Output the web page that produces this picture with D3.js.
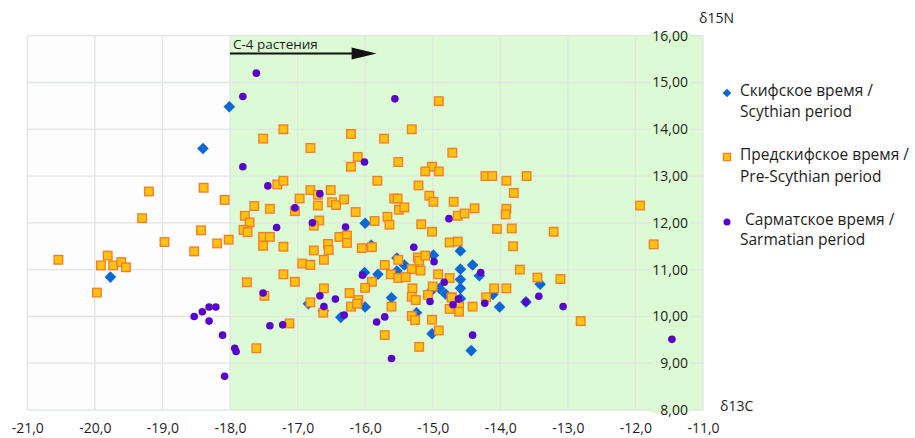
<!DOCTYPE html>
<html>
<head>
<meta charset="utf-8">
<script src="https://cdn.jsdelivr.net/npm/d3@7"></script>
<style>
body { margin: 0; background: #fff; }
text { font-family: "Open Sans", sans-serif; fill: #1d1d1d; }
</style>
</head>
<body>
<div id="chart"></div>
<script>
// Tick values of both axes
const xTicks = [-21, -20, -19, -18, -17, -16, -15, -14, -13, -12, -11];
const yTicks = [8, 9, 10, 11, 12, 13, 14, 15, 16];

// Start of the C-4 zone on the δ13C axis
const c4Start = -18;

// [δ13C, δ15N] for every sample, one array per period
const scythian = [
    [-18.01, 14.48], [-18.40, 13.59], [-19.77, 10.84], [-16.00, 11.99], [-15.91, 11.52],
    [-15.42, 11.10], [-14.99, 11.31], [-14.59, 11.40], [-14.59, 11.01], [-14.59, 10.79],
    [-14.59, 10.60], [-14.59, 10.38], [-14.41, 11.10], [-14.31, 10.87], [-13.41, 10.69],
    [-14.11, 10.47], [-14.01, 10.20], [-13.62, 10.31], [-14.43, 9.27], [-16.01, 10.94],
    [-15.81, 10.90], [-15.53, 10.97], [-14.90, 10.60], [-14.81, 10.48], [-15.02, 10.55],
    [-15.61, 10.40], [-16.00, 10.20], [-16.84, 10.27], [-16.62, 10.12], [-16.36, 9.98],
    [-15.24, 10.08], [-15.01, 9.63], [-15.53, 11.25]
];

const preScythian = [
    [-19.20, 12.67], [-18.39, 12.75], [-18.08, 12.49], [-19.30, 12.10], [-18.43, 11.84],
    [-17.78, 12.15], [-17.71, 12.01], [-17.80, 11.85], [-17.74, 11.80],
    [-20.54, 11.21], [-19.81, 11.30], [-19.91, 11.09], [-19.73, 11.09], [-19.61, 11.16],
    [-19.54, 11.05], [-19.97, 10.51], [-18.97, 11.59], [-18.53, 11.39], [-18.19, 11.56],
    [-18.02, 11.64], [-17.75, 10.73],
    [-14.91, 14.60], [-17.21, 14.00], [-17.51, 13.80], [-16.21, 13.90], [-15.72, 13.80],
    [-15.31, 14.00], [-16.81, 13.60], [-14.71, 13.50], [-16.11, 13.41], [-16.21, 13.20],
    [-15.51, 13.30], [-15.01, 13.20], [-15.11, 13.10], [-14.91, 13.10], [-15.82, 12.90],
    [-17.30, 12.82], [-17.21, 12.90], [-15.21, 12.80], [-16.81, 12.70], [-16.70, 12.60],
    [-16.51, 12.70], [-16.97, 12.52], [-17.64, 12.36], [-17.41, 12.30], [-16.70, 12.37],
    [-16.49, 12.44], [-16.43, 12.38], [-16.31, 12.50], [-15.57, 12.52], [-15.52, 12.52],
    [-15.05, 12.58], [-14.99, 12.45], [-14.69, 12.45], [-15.50, 12.28], [-15.42, 12.33],
    [-17.04, 12.25], [-16.14, 12.23], [-16.68, 12.05], [-16.76, 11.94], [-15.86, 12.04],
    [-15.67, 12.13], [-15.64, 11.96], [-15.17, 11.97], [-15.01, 11.81], [-14.63, 12.15],
    [-14.53, 12.20],
    [-14.22, 13.00], [-14.12, 13.00], [-13.91, 12.90], [-13.61, 13.00], [-13.80, 12.64],
    [-14.38, 12.31], [-13.91, 12.30], [-13.92, 12.18], [-11.93, 12.37], [-14.05, 11.87],
    [-13.83, 11.88], [-13.21, 11.81],
    [-11.73, 11.54], [-13.81, 11.50], [-13.71, 11.00], [-13.45, 10.83], [-13.11, 10.80],
    [-14.09, 10.60], [-13.91, 10.60], [-14.21, 10.41], [-14.41, 10.21], [-12.81, 9.90],
    [-14.75, 11.58], [-14.63, 11.60], [-14.72, 10.41], [-14.61, 10.21], [-14.61, 10.10],
    [-14.75, 10.16],
    [-15.51, 11.21], [-15.22, 11.26], [-15.20, 11.19], [-15.11, 11.30], [-15.31, 11.01],
    [-15.18, 10.98], [-15.62, 10.90], [-15.51, 10.82], [-15.40, 10.84], [-14.92, 10.90],
    [-14.75, 10.82], [-15.00, 10.64], [-15.30, 10.60], [-15.07, 10.46], [-15.31, 10.42],
    [-15.25, 10.35], [-15.61, 10.21], [-14.72, 10.40], [-15.31, 10.01], [-15.26, 9.92],
    [-15.01, 9.93], [-14.91, 9.70], [-15.71, 9.60], [-15.20, 9.35],
    [-17.51, 11.70], [-17.41, 11.70], [-17.51, 11.51], [-17.21, 11.49], [-16.76, 11.41],
    [-16.55, 11.55], [-16.54, 11.42], [-16.38, 11.70], [-16.27, 11.73], [-16.27, 11.57],
    [-16.61, 11.21], [-16.93, 11.13], [-16.81, 11.10], [-16.05, 11.46], [-15.90, 11.48],
    [-15.71, 11.10], [-17.21, 10.90], [-17.04, 10.74], [-15.90, 10.74], [-16.00, 10.61],
    [-17.49, 10.44], [-16.61, 10.60], [-16.23, 10.50], [-16.10, 10.35], [-16.21, 10.21],
    [-16.12, 10.27], [-16.81, 10.30], [-16.62, 10.08], [-17.12, 9.85], [-17.61, 9.32]
];

const sarmatian = [
    [-17.81, 14.70], [-17.61, 15.20], [-15.56, 14.65], [-17.81, 13.20], [-16.01, 13.30],
    [-17.44, 12.79], [-16.67, 12.62], [-17.04, 12.32], [-17.31, 11.90], [-16.78, 12.00],
    [-16.29, 11.91], [-14.76, 12.09],
    [-18.53, 10.00], [-18.41, 10.10], [-18.31, 10.20], [-18.21, 10.20], [-18.31, 9.90],
    [-18.11, 9.60], [-17.93, 9.32], [-17.91, 9.25], [-18.08, 8.72],
    [-15.28, 11.48], [-14.98, 11.17], [-14.83, 10.73], [-14.62, 10.37], [-15.04, 10.32],
    [-14.70, 10.25], [-15.71, 9.99], [-16.04, 10.88], [-17.51, 10.50], [-16.67, 10.44],
    [-16.44, 10.37], [-16.61, 10.21], [-16.31, 10.03], [-15.83, 9.88], [-15.61, 9.10],
    [-17.41, 9.80], [-17.22, 9.82],
    [-14.29, 10.94], [-14.23, 10.28], [-13.62, 10.31], [-13.43, 10.43], [-13.07, 10.21],
    [-14.41, 9.60], [-11.46, 9.51]
];

// Legend texts
const legendLabels = [
    ["Скифское время /", "Scythian period"],
    ["Предскифское время /", "Pre-Scythian period"],
    ["Сарматское время /", "Sarmatian period"]
];

const width = 915;
const height = 438;

// Plot area
const margin = { top: 35.7, right: 212, bottom: 28, left: 27.3 };

const svg = d3.select("#chart").append("svg")
    .attr("width", width)
    .attr("height", height);

const xScale = d3.scaleLinear()
    .domain([-21, -11])
    .range([margin.left, width - margin.right]);

const yScale = d3.scaleLinear()
    .domain([8, 16])
    .range([height - margin.bottom, margin.top]);

// Number format with comma decimals and a plain hyphen
const ruLocale = d3.formatLocale({ decimal: ",", thousands: " ", grouping: [3], currency: ["", ""], minus: "-" });
const fmtX = ruLocale.format(".1f");
const fmtY = ruLocale.format(".2f");

const green = "#dcfad3";
const gridColor = "#dfe6e3";

// Backgrounds
svg.append("rect")
    .attr("x", xScale(-21))
    .attr("y", yScale(16))
    .attr("width", xScale(c4Start) - xScale(-21))
    .attr("height", yScale(8) - yScale(16))
    .attr("fill", "#fcfdfc");

svg.append("rect")
    .attr("x", xScale(c4Start))
    .attr("y", yScale(16))
    .attr("width", xScale(-11) - xScale(c4Start))
    .attr("height", yScale(8) - yScale(16))
    .attr("fill", green);

// Grid lines
svg.append("g")
    .selectAll("line")
    .data(xTicks)
    .join("line")
    .attr("x1", d => xScale(d))
    .attr("x2", d => xScale(d))
    .attr("y1", yScale(16))
    .attr("y2", yScale(8))
    .attr("stroke", gridColor)
    .attr("stroke-width", 1.3);

svg.append("g")
    .selectAll("line")
    .data(yTicks)
    .join("line")
    .attr("x1", xScale(-21))
    .attr("x2", xScale(-11))
    .attr("y1", d => yScale(d))
    .attr("y2", d => yScale(d))
    .attr("stroke", gridColor)
    .attr("stroke-width", 1.3);

// x axis labels
const xAxis = svg.append("g")
    .attr("transform", `translate(0, ${yScale(8)})`)
    .call(d3.axisBottom(xScale).tickValues(xTicks).tickSize(0).tickPadding(13).tickFormat(fmtX));
xAxis.select(".domain").remove();
xAxis.selectAll("text")
    .style("font-family", "'Open Sans', sans-serif")
    .style("font-size", "14px")
    .attr("fill", "#1d1d1d");

// y axis labels sit inside the plot, near its right edge
const yLabels = svg.append("g");
yTicks.forEach(t => {
    const g = yLabels.append("g").attr("transform", `translate(${xScale(-11) - 15}, ${yScale(t)})`);
    g.append("rect")
        .attr("x", -37)
        .attr("y", -3)
        .attr("width", 39)
        .attr("height", 6)
        .attr("fill", green);
    g.append("text")
        .attr("text-anchor", "end")
        .attr("dy", "0.35em")
        .style("font-size", "14px")
        .text(fmtY(t));
});

// Axis titles
svg.append("text")
    .attr("x", xScale(-11) - 4)
    .attr("y", 23)
    .style("font-size", "14px")
    .text("δ15N");

svg.append("text")
    .attr("x", xScale(-11) + 17)
    .attr("y", yScale(8) + 1)
    .style("font-size", "14px")
    .text("δ13C");

// C-4 arrow
const arrowY = 53.5;
svg.append("text")
    .attr("x", xScale(c4Start) + 3)
    .attr("y", 48.5)
    .style("font-size", "13.5px")
    .text("C-4 растения");

svg.append("line")
    .attr("x1", xScale(c4Start))
    .attr("x2", xScale(-16.15))
    .attr("y1", arrowY)
    .attr("y2", arrowY)
    .attr("stroke", "#111")
    .attr("stroke-width", 2.2);

svg.append("path")
    .attr("d", `M${xScale(-16.2)},${arrowY - 6}L${xScale(-15.83)},${arrowY}L${xScale(-16.2)},${arrowY + 6}Z`)
    .attr("fill", "#111");

// Markers
const diamond = s => `M0,${-s}L${s},0L0,${s}L${-s},0Z`;

svg.append("g")
    .selectAll("path")
    .data(scythian)
    .join("path")
    .attr("d", diamond(5.8))
    .attr("transform", d => `translate(${xScale(d[0])}, ${yScale(d[1])})`)
    .attr("fill", "#0b66d6");

svg.append("g")
    .selectAll("rect")
    .data(preScythian)
    .join("rect")
    .attr("x", d => xScale(d[0]) - 4.3)
    .attr("y", d => yScale(d[1]) - 4.3)
    .attr("width", 8.6)
    .attr("height", 8.6)
    .attr("fill", "#ffc20e")
    .attr("stroke", "#f47b2a")
    .attr("stroke-width", 1.3);

svg.append("g")
    .selectAll("circle")
    .data(sarmatian)
    .join("circle")
    .attr("cx", d => xScale(d[0]))
    .attr("cy", d => yScale(d[1]))
    .attr("r", 3.8)
    .attr("fill", "#5800cc");

// Legend
const legendX = 727;
const legendRows = [93, 157, 222];
const legendText = svg.append("g");

legendText.append("path")
    .attr("d", diamond(4.3))
    .attr("transform", `translate(${legendX}, ${legendRows[0]})`)
    .attr("fill", "#0b66d6");

legendText.append("rect")
    .attr("x", legendX - 3.6)
    .attr("y", legendRows[1] - 3.6)
    .attr("width", 7.2)
    .attr("height", 7.2)
    .attr("fill", "#ffc20e")
    .attr("stroke", "#f47b2a")
    .attr("stroke-width", 1.2);

legendText.append("circle")
    .attr("cx", legendX)
    .attr("cy", legendRows[2])
    .attr("r", 3.5)
    .attr("fill", "#5800cc");

const lineBase = [[96, 116.7], [160, 181.7], [225, 245]];
legendLabels.forEach((lines, i) => {
    lines.forEach((t, j) => {
        legendText.append("text")
            .attr("x", (i == 2 && j == 0) ? 745 : 740)
            .attr("y", lineBase[i][j])
            .style("font-size", "15.5px")
            .text(t);
    });
});
</script>
</body>
</html>
